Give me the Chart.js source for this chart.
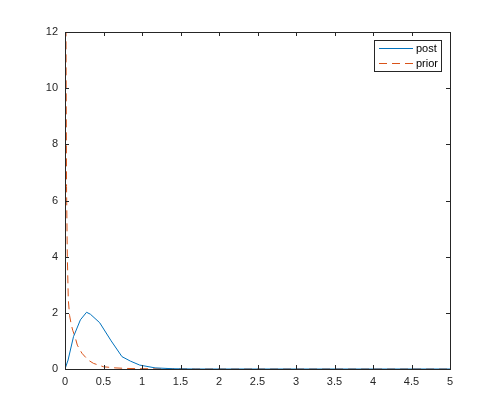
<!DOCTYPE html>
<html>
<head>
<meta charset="utf-8">
<script src="https://cdn.jsdelivr.net/npm/chart.js@4"></script>
<style>
  html, body { margin: 0; padding: 0; background: #fff; }
  #plot { display: block; }
</style>
</head>
<body>
<canvas id="plot" width="498" height="415"></canvas>
<script>
// Values
const postX = [0, 0.04, 0.11, 0.2, 0.28, 0.33, 0.45, 0.6, 0.74, 0.85, 0.97, 1.17, 1.4, 1.7, 2, 3, 4, 5];
const postY = [0, 0.32, 1.15, 1.75, 2.02, 1.95, 1.65, 1.0, 0.44, 0.28, 0.14, 0.04, 0.01, 0, 0, 0, 0, 0];

const priorX = [0.005, 0.013, 0.02, 0.03, 0.043, 0.06, 0.08, 0.1, 0.13, 0.16, 0.22, 0.3, 0.37, 0.5, 0.65, 0.8, 1.0, 1.3, 1.7, 2.5, 3.5, 5];
const priorY = [20, 12, 6.5, 4.0, 2.46, 1.9, 1.6, 1.38, 1.15, 0.85, 0.56, 0.32, 0.2, 0.08, 0.04, 0.02, 0.01, 0.005, 0, 0, 0, 0];

const seriesNames = ['post', 'prior'];
const xTicks = [0, 0.5, 1, 1.5, 2, 2.5, 3, 3.5, 4, 4.5, 5];
const yTicks = [0, 2, 4, 6, 8, 10, 12];

const axisColor = '#262626';
const tickFont = { family: '"Liberation Sans", Arial, sans-serif', size: 11 };

// MATLAB style box with inward ticks on all four sides
const boxTicks = {
    id: 'boxTicks',
    afterDraw(chart) {
        const { ctx, chartArea: a, scales } = chart;
        const len = 4;
        ctx.save();
        ctx.strokeStyle = axisColor;
        ctx.lineWidth = 1;
        ctx.beginPath();
        xTicks.forEach(v => {
            const px = Math.round(scales.x.getPixelForValue(v)) + 0.5;
            ctx.moveTo(px, a.bottom); ctx.lineTo(px, a.bottom - len);
            ctx.moveTo(px, a.top); ctx.lineTo(px, a.top + len);
        });
        yTicks.forEach(v => {
            const py = Math.round(scales.y.getPixelForValue(v)) + 0.5;
            ctx.moveTo(a.left, py); ctx.lineTo(a.left + len, py);
            ctx.moveTo(a.right, py); ctx.lineTo(a.right - len, py);
        });
        ctx.stroke();
        ctx.strokeRect(Math.round(a.left) + 0.5, Math.round(a.top) + 0.5,
            Math.round(a.right - a.left), Math.round(a.bottom - a.top));

        // legend box, top right inside the axes
        const lx = a.right - 76, ly = a.top + 8, lw = 67, lh = 31;
        ctx.fillStyle = '#fff';
        ctx.fillRect(lx, ly, lw, lh);
        ctx.strokeRect(Math.round(lx) + 0.5, Math.round(ly) + 0.5, lw, lh);
        ctx.font = '11px "Liberation Sans", Arial, sans-serif';
        ctx.textBaseline = 'middle';
        chart.data.datasets.forEach((ds, i) => {
            const yy = ly + 8.5 + i * 15;
            ctx.beginPath();
            ctx.strokeStyle = ds.borderColor;
            ctx.setLineDash(ds.borderDash || []);
            ctx.moveTo(lx + 5, yy);
            ctx.lineTo(lx + 39, yy);
            ctx.stroke();
            ctx.setLineDash([]);
            ctx.fillStyle = '#000';
            ctx.fillText(ds.label, lx + 42, yy);
        });
        ctx.restore();
    }
};

new Chart(document.getElementById('plot').getContext('2d'), {
    type: 'scatter',
    data: {
        datasets: [
            {
                label: seriesNames[0],
                data: postX.map((x, i) => ({ x: x, y: postY[i] })),
                showLine: true,
                borderColor: '#0072BD',
                borderWidth: 1,
                pointRadius: 0,
                tension: 0
            },
            {
                label: seriesNames[1],
                data: priorX.map((x, i) => ({ x: x, y: priorY[i] })),
                showLine: true,
                borderColor: '#D95319',
                borderWidth: 1,
                borderDash: [8, 5],
                pointRadius: 0,
                tension: 0
            }
        ]
    },
    options: {
        responsive: false,
        animation: false,
        layout: { padding: { top: 32, right: 48, left: 0, bottom: 0 } },
        plugins: {
            legend: { display: false },
            tooltip: { enabled: false }
        },
        scales: {
            x: {
                type: 'linear',
                min: 0,
                max: 5,
                afterBuildTicks: s => { s.ticks = xTicks.map(v => ({ value: v })); },
                afterFit: s => { s.height = 46; },
                grid: { display: false, drawTicks: false },
                border: { display: false },
                ticks: { color: axisColor, font: tickFont, padding: 6, maxRotation: 0,
                    callback: v => String(v) }
            },
            y: {
                type: 'linear',
                min: 0,
                max: 12,
                afterBuildTicks: s => { s.ticks = yTicks.map(v => ({ value: v })); },
                afterFit: s => { s.width = 65; },
                grid: { display: false, drawTicks: false },
                border: { display: false },
                ticks: { color: axisColor, font: tickFont, padding: 7,
                    callback: v => String(v) }
            }
        }
    },
    plugins: [boxTicks]
});
</script>
</body>
</html>
